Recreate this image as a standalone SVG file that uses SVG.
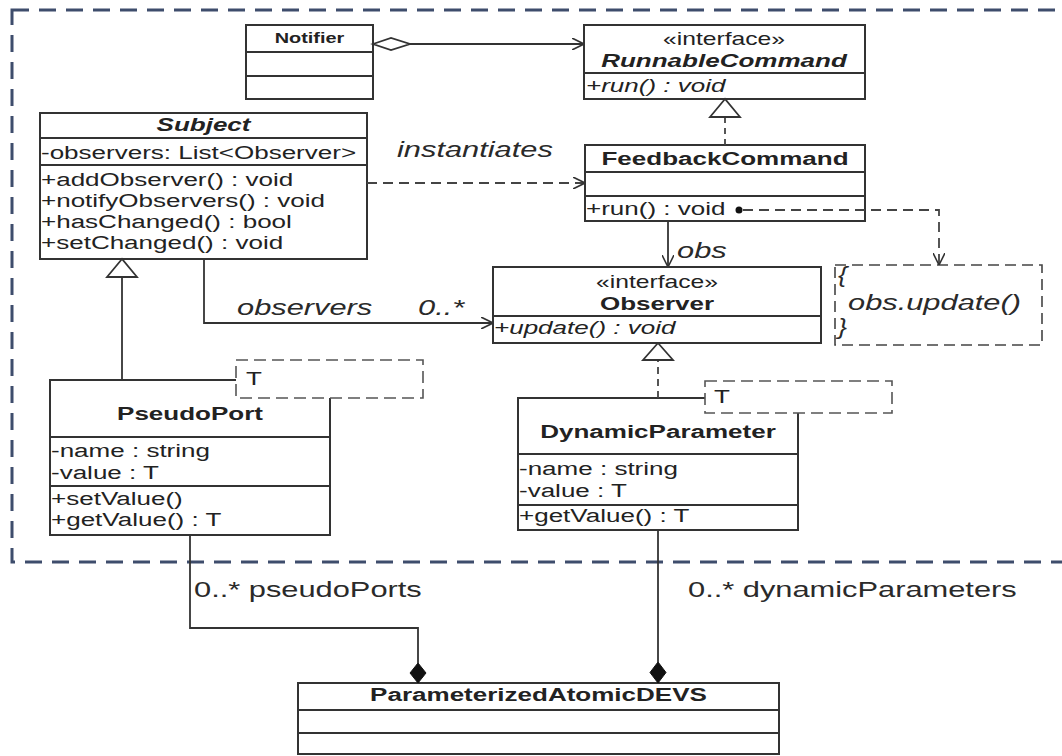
<svg xmlns="http://www.w3.org/2000/svg" width="1062" height="756" viewBox="0 0 1062 756">
<style>
.box{fill:#fff;stroke:#333;stroke-width:2}
.dv{stroke:#333;stroke-width:2;fill:none}
.t{font-family:"Liberation Sans",Arial,sans-serif;font-size:19px;fill:#222}
.b{font-weight:bold}
.i{font-style:italic}
.c{text-anchor:middle}
.lbl{font-size:22.5px;fill:#2a2a2a}
.tpl{fill:#fff;stroke:#555;stroke-width:1.6;stroke-dasharray:12 6}
.frame{fill:none;stroke:#3e4d6c;stroke-width:3;stroke-dasharray:17 10}
.ln{fill:none;stroke:#333;stroke-width:1.8}
.dash{fill:none;stroke:#444;stroke-width:1.8;stroke-dasharray:10 6}
.hol{fill:#fff;stroke:#333;stroke-width:1.8}
.sol{fill:#111;stroke:#111;stroke-width:1}
</style>
<defs>
<marker id="arrow" viewBox="0 0 12 12" refX="12" refY="6" markerWidth="12" markerHeight="12" orient="auto" markerUnits="userSpaceOnUse"><path d="M0,0 L12,6 L0,12" fill="none" stroke="#333" stroke-width="1.6"/></marker>
</defs>
<rect width="1062" height="756" fill="#fff"/>
<rect class="frame" x="12" y="10" width="1062" height="552"/>

<g id="notifier">
<rect class="box" x="246" y="25" width="127" height="74"/>
<line class="dv" x1="246" y1="52" x2="373" y2="52"/>
<line class="dv" x1="246" y1="76" x2="373" y2="76"/>
<text class="t b c" style="font-size:14.5px" transform="translate(309.5,43) scale(1.37,1)">Notifier</text>
</g>

<g id="runnableCommand">
<rect class="box" x="584" y="25" width="281" height="74"/>
<line class="dv" x1="584" y1="73" x2="865" y2="73"/>
<text class="t c" style="font-size:18px" transform="translate(724,45) scale(1.37,1)">«interface»</text>
<text class="t b i c" transform="translate(724,67) scale(1.37,1)">RunnableCommand</text>
<text class="t i" transform="translate(586,92) scale(1.37,1)">+run() : void</text>
</g>

<g id="feedbackCommand">
<rect class="box" x="585" y="145" width="280" height="76"/>
<line class="dv" x1="585" y1="172" x2="865" y2="172"/>
<line class="dv" x1="585" y1="196" x2="865" y2="196"/>
<text class="t b c" transform="translate(725,165) scale(1.37,1)">FeedbackCommand</text>
<text class="t" transform="translate(586,215) scale(1.37,1)">+run() : void</text>
</g>

<g id="subject">
<rect class="box" x="40" y="113" width="327" height="146"/>
<line class="dv" x1="40" y1="138" x2="367" y2="138"/>
<line class="dv" x1="40" y1="165" x2="367" y2="165"/>
<text class="t b i c" transform="translate(203.5,131) scale(1.37,1)">Subject</text>
<text class="t" transform="translate(41,159) scale(1.37,1)">-observers: List&lt;Observer&gt;</text>
<text class="t" transform="translate(41,186) scale(1.37,1)">+addObserver() : void</text>
<text class="t" transform="translate(41,207) scale(1.37,1)">+notifyObservers() : void</text>
<text class="t" transform="translate(41,228) scale(1.37,1)">+hasChanged() : bool</text>
<text class="t" transform="translate(41,249) scale(1.37,1)">+setChanged() : void</text>
</g>

<g id="observer">
<rect class="box" x="493" y="267" width="328" height="76"/>
<line class="dv" x1="493" y1="316" x2="821" y2="316"/>
<text class="t c" style="font-size:18px" transform="translate(657,288) scale(1.37,1)">«interface»</text>
<text class="t b c" transform="translate(657,310) scale(1.37,1)">Observer</text>
<text class="t i" transform="translate(494,334) scale(1.37,1)">+update() : void</text>
</g>

<g id="note">
<rect x="835" y="265" width="207" height="80" fill="#fff" stroke="#444" stroke-width="1.6" stroke-dasharray="11 6"/>
<text class="t i lbl" transform="translate(838,282) scale(1.2,1)">{</text>
<text class="t i lbl" transform="translate(848,310) scale(1.37,1)">obs.update()</text>
<text class="t i lbl" transform="translate(838,334) scale(1.2,1)">}</text>
</g>

<g id="pseudoPort">
<rect class="box" x="50" y="380" width="280" height="155"/>
<line class="dv" x1="50" y1="437" x2="330" y2="437"/>
<line class="dv" x1="50" y1="486" x2="330" y2="486"/>
<rect class="tpl" x="236" y="360" width="187" height="38"/>
<text class="t" transform="translate(246,385) scale(1.37,1)">T</text>
<text class="t b c" transform="translate(190,420) scale(1.37,1)">PseudoPort</text>
<text class="t" transform="translate(51,457) scale(1.37,1)">-name : string</text>
<text class="t" transform="translate(51,479) scale(1.37,1)">-value : T</text>
<text class="t" transform="translate(51,505) scale(1.37,1)">+setValue()</text>
<text class="t" transform="translate(51,526) scale(1.37,1)">+getValue() : T</text>
</g>

<g id="dynamicParameter">
<rect class="box" x="518" y="398" width="280" height="132"/>
<line class="dv" x1="518" y1="454" x2="798" y2="454"/>
<line class="dv" x1="518" y1="505" x2="798" y2="505"/>
<rect class="tpl" x="705" y="381" width="187" height="32"/>
<text class="t" transform="translate(714,403) scale(1.37,1)">T</text>
<text class="t b c" transform="translate(658,438) scale(1.37,1)">DynamicParameter</text>
<text class="t" transform="translate(519,475) scale(1.37,1)">-name : string</text>
<text class="t" transform="translate(519,497) scale(1.37,1)">-value : T</text>
<text class="t" transform="translate(519,522) scale(1.37,1)">+getValue() : T</text>
</g>

<g id="parameterizedAtomicDEVS">
<rect class="box" x="298" y="683" width="481" height="71"/>
<line class="dv" x1="298" y1="710" x2="779" y2="710"/>
<line class="dv" x1="298" y1="733" x2="779" y2="733"/>
<text class="t b c" transform="translate(538.5,701) scale(1.37,1)">ParameterizedAtomicDEVS</text>
</g>

<g id="connectors">
<polygon class="hol" points="373,44 391,38 410,44 391,50"/>
<line class="ln" x1="410" y1="44" x2="584" y2="44" marker-end="url(#arrow)"/>
<line class="dash" x1="725" y1="145" x2="725" y2="117" style="stroke-dasharray:6 5"/>
<polygon class="hol" points="725,99 710,117 740,117"/>
<line class="dash" x1="367" y1="183" x2="585" y2="183" marker-end="url(#arrow)"/>
<text class="t i lbl" transform="translate(397,157) scale(1.37,1)">instantiates</text>
<line class="ln" x1="668" y1="221" x2="668" y2="267" marker-end="url(#arrow)"/>
<text class="t i lbl" transform="translate(677,258) scale(1.37,1)">obs</text>
<circle cx="739" cy="210" r="3.5" fill="#111"/>
<path class="dash" d="M743,210 H939 V265" marker-end="url(#arrow)"/>
<path class="ln" d="M204,259 V323 H493" marker-end="url(#arrow)"/>
<text class="t i lbl" transform="translate(237,315) scale(1.37,1)">observers</text>
<text class="t i lbl" transform="translate(418,315) scale(1.37,1)">0..*</text>
<line class="ln" x1="122" y1="380" x2="122" y2="277"/>
<polygon class="hol" points="122,259 107,277 137,277"/>
<line class="dash" x1="658" y1="398" x2="658" y2="360" style="stroke-dasharray:7 5"/>
<polygon class="hol" points="658,343 643,360 673,360"/>
<path class="ln" d="M190,535 V628 H418 V663"/>
<polygon class="sol" points="418,663 426,673 418,683 410,673"/>
<text class="t lbl" transform="translate(194,597) scale(1.37,1)">0..* pseudoPorts</text>
<line class="ln" x1="658" y1="530" x2="658" y2="662"/>
<polygon class="sol" points="658,662 666,672.5 658,683 650,672.5"/>
<text class="t lbl" transform="translate(688,597) scale(1.37,1)">0..* dynamicParameters</text>
</g>
</svg>
